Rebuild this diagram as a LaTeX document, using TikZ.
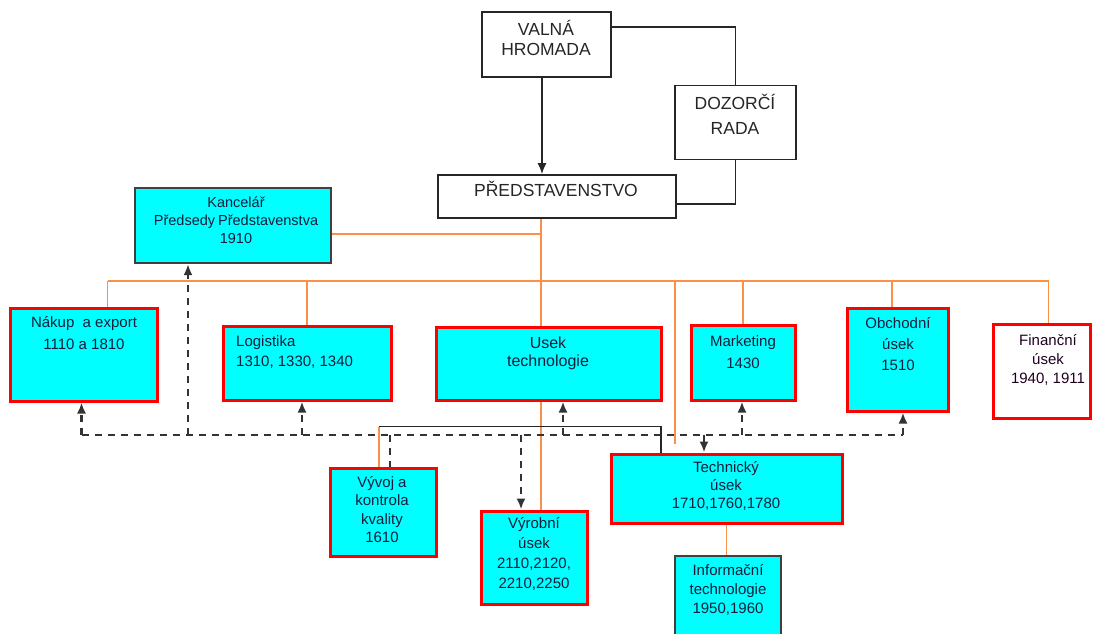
\documentclass[tikz,border=0pt]{standalone}
\usepackage{fontspec}
\setmainfont{Liberation Sans}
\usetikzlibrary{arrows.meta,positioning}
\definecolor{unitcyan}{RGB}{0,255,255}
\definecolor{orgline}{RGB}{250,145,70}
\definecolor{inktext}{RGB}{20,30,60}

\begin{document}
\begin{tikzpicture}[x=1pt,y=-1pt,>={Latex[length=11pt,width=9pt]},
  top node/.style={draw=black!85,line width=1.7pt,fill=white,inner sep=0pt},
  unit node/.style={draw=red,line width=3pt,fill=unitcyan,inner sep=0pt},
  staff node/.style={draw=black!75,line width=2.2pt,fill=unitcyan,inner sep=0pt},
  box text/.style={anchor=north,inner sep=0pt,align=center,text=inktext},
  top text/.style={box text,text=black!85,font=\fontsize{17.5}{20}\selectfont},
  org/.style={draw=orgline,line width=1.7pt},
  sub/.style={draw=black!85,line width=1.7pt},
  coop/.style={draw=black!80,line width=2.4pt,dash pattern=on 7pt off 6pt}]
\useasboundingbox (0,0) rectangle (1093,633);

% top of the company
  \node[top node,minimum width=129pt,minimum height=65pt] (valna) at (546.5,44.5) {};
  \node[top text] (valna text) at (546,20) {VALNÁ\\HROMADA};
  \node[top node,minimum width=121pt,minimum height=74pt] (dozor) at (735.5,122.5) {};
  \node[top text,font=\fontsize{17.5}{25}\selectfont] (dozor text) at (735,94) {DOZORČÍ\\RADA};
  \node[top node,minimum width=238pt,minimum height=43pt] (predst) at (557,196.5) {};
  \node[top text] (predst text) at (556,181) {PŘEDSTAVENSTVO};

  \coordinate (vh) at ([xshift=-4.5pt]valna.south);
  \draw[sub,->] (vh) -- (vh |- predst.north);
  \draw[sub] ([yshift=17.5pt]valna.east) -| (dozor.north);
  \draw[sub] (dozor.south) |- ([yshift=-7.5pt]predst.east);

% staff office
  \node[staff node,minimum width=196pt,minimum height=75pt] (kancl) at (233,225.5) {};
  \node[box text,font=\fontsize{14.5}{18}\selectfont] (kancl text) at (236,197)
    {Kancelář\\Předsedy\hspace{-1pt} Představenstva\\1910};

% first row of units
  \node[unit node,minimum width=147pt,minimum height=93pt] (nakup) at (83.5,354.5) {};
  \node[box text,font=\fontsize{15}{22}\selectfont] (nakup text) at (84,316) {Nákup\ \ a export\\1110 a 1810};
  \node[unit node,minimum width=168pt,minimum height=74pt] (logist) at (307,363) {};
  \node[box text,anchor=north west,align=left,font=\fontsize{15}{20.5}\selectfont] (logist text) at (236,335)
    {Logistika\\1310, 1330, 1340};
  \node[unit node,minimum width=225pt,minimum height=73pt] (usek) at (548.5,363.5) {};
  \node[box text,font=\fontsize{16}{18}\selectfont] (usek text) at (548,337) {Usek\\technologie};
  \node[unit node,minimum width=104pt,minimum height=75pt] (market) at (743,362.5) {};
  \node[box text,font=\fontsize{15}{22}\selectfont] (market text) at (743,335) {Marketing\\1430};
  \node[unit node,minimum width=101pt,minimum height=103pt] (obchod) at (897.5,359.5) {};
  \node[box text,font=\fontsize{15}{21}\selectfont] (obchod text) at (898,317) {Obchodní\\úsek\\1510};
  \node[unit node,fill=white,minimum width=97pt,minimum height=94pt] (financ) at (1041.5,371) {};
  \node[box text,text=black!75!violet,font=\fontsize{15}{19}\selectfont] (financ text) at (1048,334)
    {Finanční\\úsek\\1940, 1911};

% second row of units
  \node[unit node,minimum width=106pt,minimum height=88pt] (vyvoj) at (383,512) {};
  \node[box text,font=\fontsize{15}{18.5}\selectfont] (vyvoj text) at (382,476)
    {Vývoj a\\kontrola\\kvality\\1610};
  \node[unit node,minimum width=106pt,minimum height=93pt] (vyroba) at (534,557.5) {};
  \node[box text,font=\fontsize{15}{20}\selectfont] (vyroba text) at (534,517)
    {Výrobní\\úsek\\2110,2120,\\2210,2250};
  \node[unit node,minimum width=231pt,minimum height=69pt] (technik) at (726.5,488.5) {};
  \node[box text,font=\fontsize{15}{18}\selectfont] (technik text) at (726,461)
    {Technický\\úsek\\1710,1760,1780};
  \node[staff node,minimum width=106pt,minimum height=90pt] (info) at (728,601) {};
  \node[box text,font=\fontsize{15}{19}\selectfont] (info text) at (728,564)
    {Informační\\technologie\\1950,1960};

% line organisation
  \coordinate (trunk) at ([xshift=-16pt]predst.south);
  \coordinate (kancl link) at ([yshift=-8.5pt]kancl.east);
  \coordinate (bus west) at (107.5,281);
  \coordinate (bus east) at (1048.5,281);
  \coordinate (loose end) at (675,444);
  \draw[org] (trunk) -- (trunk |- usek.north);
  \draw[org] (kancl link) -- (trunk |- kancl link);
  \draw[org] (bus west) -- (bus east);
  \draw[org] (bus west) -- (bus west |- nakup.north);
  \draw[org] (logist.north |- bus west) -- (logist.north);
  \draw[org] (market.north |- bus west) -- (market.north);
  \draw[org] ([xshift=-5.5pt]obchod.north |- bus west) -- ([xshift=-5.5pt]obchod.north);
  \draw[org] (bus east) -- (bus east |- financ.north);
  \draw[org] (loose end |- bus west) -- (loose end);
  \draw[org] (trunk |- usek.south) -- (trunk |- vyroba.north);
  \draw[org] (technik.south) -- (technik.south |- info.north);
  \coordinate (qa link) at ([xshift=-4pt,yshift=40pt]vyvoj.north);
  \draw[org] ([xshift=-4pt]vyvoj.north) -- (qa link);
  \draw[sub] (qa link) -| ([xshift=-65.5pt]technik.north);

% cooperation (dashed)
  \coordinate (coop west) at (81.5,435);
  \coordinate (coop east) at (903,435);
  \draw[coop] (coop west) -- (coop east);
  \draw[coop,->] (coop west) -- ([xshift=-2pt]nakup.south);
  \draw[coop,->] ([xshift=-45pt]kancl.south |- coop west) -- ([xshift=-45pt]kancl.south);
  \draw[coop,->] ([xshift=-5pt]logist.south |- coop west) -- ([xshift=-5pt]logist.south);
  \draw[coop,->] ([xshift=14.5pt]usek.south |- coop west) -- ([xshift=14.5pt]usek.south);
  \draw[coop,->] ([xshift=-1pt]market.south |- coop west) -- ([xshift=-1pt]market.south);
  \draw[coop,->] (coop east) -- (coop east |- obchod.south);
  \draw[coop] ([xshift=7pt]vyvoj.north |- coop west) -- ([xshift=7pt]vyvoj.north);
  \draw[coop,->] ([xshift=-13pt]vyroba.north |- coop west) -- ([xshift=-13pt]vyroba.north);
  \draw[coop,->] ([xshift=-22.5pt]technik.north |- coop west) -- ([xshift=-22.5pt]technik.north);

\end{tikzpicture}
\end{document}
